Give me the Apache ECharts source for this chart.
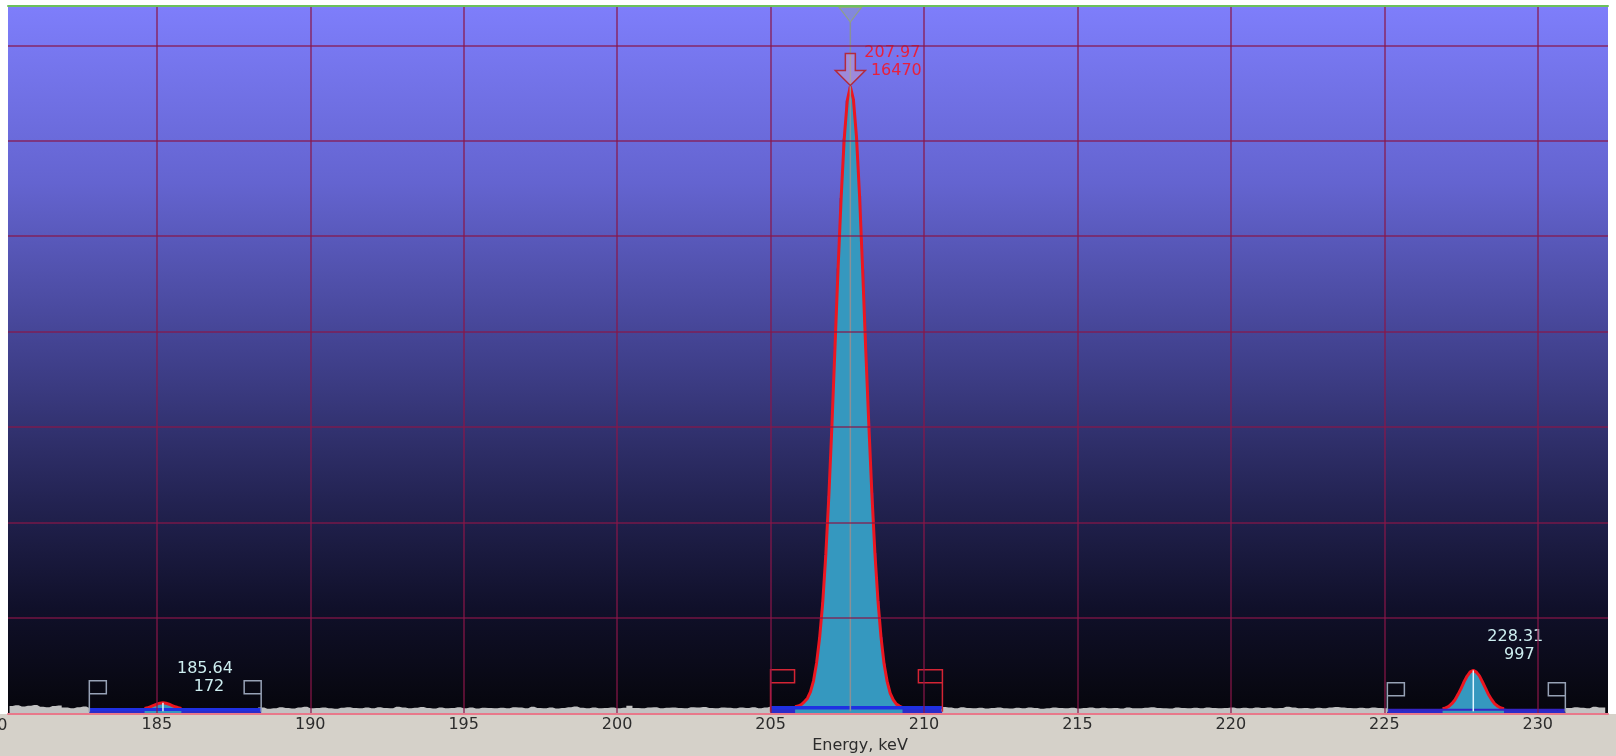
<!DOCTYPE html>
<html>
<head>
<meta charset="utf-8">
<script src="https://cdn.jsdelivr.net/npm/echarts@6/dist/echarts.min.js"></script>
<style>
html,body{margin:0;padding:0;background:#ffffff;}
#chart{width:1616px;height:756px;}
</style>
</head>
<body>
<div id="chart"></div>
<script>
// ---------------- data ----------------
const xMin = 180.15, xMax = 232.29;
const yMax = 18530, yStep = 2500;
const xTicks = [185, 190, 195, 200, 205, 210, 215, 220, 225, 230];
const xAxisTitle = 'Energy, keV';

// continuum / background spectrum, 0.2 keV bins starting at 180.2 keV
const bgStart = 180.2, bgStep = 0.2;
const bgCounts = [
  190,210,180,200,215,170,160,190,205,150,130,160,180,140,135,170,150,160,145,155,
  150,160,140,155,165,170,160,150,145,160,155,140,150,135,160,145,150,140,155,145,
  140,150,120,135,160,140,125,150,170,130,140,155,135,120,145,160,140,130,150,135,
  160,140,130,170,150,135,145,165,140,125,155,130,140,160,135,150,125,145,140,130,
  145,135,160,150,130,170,140,135,155,125,140,160,180,145,130,150,135,140,155,130,
  145,200,140,135,150,160,130,145,155,140,135,160,150,165,140,130,155,145,135,150,
  140,160,135,155,175,170,180,165,180,190,185,190,180,175,190,185,180,190,185,180,
  190,185,180,175,190,185,180,175,170,180,185,170,165,150,135,160,140,130,145,125,
  140,150,130,125,145,135,150,140,120,135,150,140,130,145,125,140,155,135,145,130,
  140,125,150,135,130,145,160,140,135,125,150,140,130,145,135,155,140,130,140,150,
  135,145,130,150,140,155,135,140,170,150,130,140,125,145,135,155,165,150,140,135,
  145,130,150,140,135,130,140,135,145,130,135,140,130,145,135,140,135,130,140,135,
  140,135,130,145,135,140,130,135,140,145,135,140,150,130,140,160,145,135,170,150,
  155
];

// ROI channel data, 0.1 keV channels
const chStep = 0.1;
const roi1Start = 182.8;
const roi1Counts = [
   95,110,100, 90,105,100, 95,110, 90,100,
  105, 95,100, 90,110,100,105,112,124,144,
  172,206,240,265,275,262,238,204,170,146,
  128,118,112,108,105,110,104,106,100, 95,
  105,100, 90,105, 95,100,110, 90,100, 95,
  105,100, 90,100,110, 95,100
];
const roi2Start = 205.0;
const roi2Counts = [
    140,  110,  150,  130,  120,  160,  135,  150,  170,  190,
    230,  300,  390,  560,  850, 1320, 1990, 2900, 4150, 5700,
   7550, 9600,11650,13500,15050,16050,16420,16080,15100,13560,
  11620, 9560, 7600, 5780, 4200, 2950, 1990, 1290,  830,  520,
    350,  240,  190,  150,  140,  120,  130,  110,  140,  120,
    150,  130,  110,  140,  120,  130,  120
];
const roi3Start = 225.1;
const roi3Counts = [
    90, 110,  85, 100,  95,  80, 105,  90, 100,  85,
    95, 110,  90, 100,  95, 100, 104, 112, 120, 142,
   180, 252, 350, 490, 648, 826, 975,1088,1125,1080,
   980, 820, 655, 485, 355, 248, 185, 138, 118, 106,
    98, 100,  90, 105,  85,  95, 100,  90, 110,  95,
    85, 100,  90, 105,  95,  80, 100,  90,  95
];
const roiBaseline = [100, 145, 92];
const peakEnergyLabels = ['185.64', '207.97', '228.31'];
const peakAreaLabels = ['172', '16470', '997'];
const selectedRoi = 1;

// ---------------- styles ----------------
const FONT = '"DejaVu Sans", Verdana, sans-serif';
const gridColor = 'rgba(138,22,72,0.82)';
const tealFill = '#3598bf';
const fitRed = '#ec1620';
const roiFillColor = '#2a2cc8';
const baselineColors = ['#1f30e2', '#1f30e2', '#3424c4'];
const baselineWidths = [3, 3.5, 2];
const flagColors = ['#97a2b6', '#d42434', '#97a2b6'];
const flagSizes = [ {h: 31, w: 17}, {h: 42, w: 24}, {h: 29, w: 17} ];

// ---------------- helpers ----------------
const r2 = v => Math.round(v * 100) / 100;
const rois = [
  {start: roi1Start, counts: roi1Counts},
  {start: roi2Start, counts: roi2Counts},
  {start: roi3Start, counts: roi3Counts}
];
rois.forEach((r, k) => {
  r.data = r.counts.map((v, i) => [r2(r.start + i * chStep), v]);
  r.end = r.data[r.data.length - 1][0];
  r.base = roiBaseline[k];
  // peak part: channels clearly above the baseline, plus one neighbour each side
  const above = r.counts.map(v => v - r.base > 35);
  r.peak = r.data.filter((d, i) => above[i] || above[i - 1] || above[i + 1]);
  let mi = 0;
  r.counts.forEach((v, i) => { if (v > r.counts[mi]) mi = i; });
  r.max = r.data[mi];
});
const inRoi = x => rois.some(r => x > r.start + 0.02 && x < r.end - 0.02);
// the continuum is shown in grey outside the regions of interest only
const bgData = bgCounts.map((v, i) => {
  const x = r2(bgStart + i * bgStep);
  return [x, inRoi(x) ? 0 : v];
});

function txt(s, x, y, color) {
  return {
    type: 'text',
    style: {
      text: s, x: x, y: y, fill: color, font: '16px ' + FONT,
      align: 'center', verticalAlign: 'middle',
      textAlign: 'center', textVerticalAlign: 'middle'
    }
  };
}

const series = [];
series.push({
  type: 'line', name: 'spectrum', data: bgData, step: 'middle',
  showSymbol: false, z: 2, silent: true,
  lineStyle: {width: 0, color: '#c2c2c2'},
  areaStyle: {color: '#c2c2c2', opacity: 1}
});
rois.forEach((r, k) => {
  series.push({
    type: 'line', name: 'roi' + (k + 1), data: r.data, step: 'middle',
    showSymbol: false, z: 2, silent: true,
    lineStyle: {width: 0, color: roiFillColor},
    areaStyle: {color: roiFillColor, opacity: 1}
  });
  series.push({
    type: 'line', name: 'peak' + (k + 1), data: r.peak,
    showSymbol: false, z: 3, silent: true,
    lineStyle: {width: 3, color: fitRed},
    areaStyle: {color: tealFill, opacity: 1}
  });
  series.push({
    type: 'line', name: 'baseline' + (k + 1),
    data: [[r.start, r.base], [r.end, r.base]],
    showSymbol: false, z: 4, silent: true,
    lineStyle: {width: baselineWidths[k], color: baselineColors[k]}
  });
});

// ROI flags
series.push({
  type: 'custom', name: 'roiFlags', z: 5, silent: true,
  data: rois.map(r => [r.start, r.end]),
  renderItem: function (params, api) {
    const k = params.dataIndex;
    const s = api.coord([api.value(0), 0]);
    const e = api.coord([api.value(1), 0]);
    const h = flagSizes[k].h, w = flagSizes[k].w, fh = 13;
    const y0 = s[1] - 1.5;
    const st = {stroke: flagColors[k], fill: null, lineWidth: 1.5};
    return {
      type: 'group',
      children: [
        {type: 'polyline', shape: {points: [[s[0], y0], [s[0], y0 - h], [s[0] + w, y0 - h], [s[0] + w, y0 - h + fh], [s[0], y0 - h + fh]]}, style: st},
        {type: 'polyline', shape: {points: [[e[0], y0], [e[0], y0 - h], [e[0] - w, y0 - h], [e[0] - w, y0 - h + fh], [e[0], y0 - h + fh]]}, style: st}
      ]
    };
  }
});

// peak markers and labels
series.push({
  type: 'custom', name: 'peakMarkers', z: 6, silent: true,
  data: rois.map(r => r.max),
  renderItem: function (params, api) {
    const i = params.dataIndex;
    const p = api.coord([api.value(0), api.value(1)]);
    const b = api.coord([api.value(0), 0]);
    const top = api.coord([api.value(0), yMax]);
    const cx = p[0];
    const sel = i === selectedRoi;
    const children = [];
    if (sel) {
      children.push({type: 'line', shape: {x1: cx, y1: b[1] - 2, x2: cx, y2: top[1] + 16},
        style: {stroke: '#8a9096', lineWidth: 1.5}});
      children.push({type: 'polygon', shape: {points: [[cx - 11, top[1] + 1.5], [cx + 11, top[1] + 1.5], [cx, top[1] + 16]]},
        style: {fill: 'rgba(150,170,140,0.25)', stroke: '#8fa088', lineWidth: 1.2}});
      const t = p[1] - 1;
      children.push({type: 'polygon', shape: {points: [[cx - 5, t - 32], [cx + 5, t - 32], [cx + 5, t - 15], [cx + 15, t - 15], [cx, t], [cx - 15, t - 15], [cx - 5, t - 15]]},
        style: {fill: 'rgba(235,180,190,0.35)', stroke: '#b42a3c', lineWidth: 1.5}});
    } else {
      children.push({type: 'line', shape: {x1: cx, y1: b[1] - 2, x2: cx, y2: p[1]},
        style: {stroke: '#e2f6ff', lineWidth: 1.5}});
    }
    const col = sel ? '#e8203c' : '#cdeef0';
    children.push(txt(peakEnergyLabels[i], cx + 42, p[1] - 34, col));
    children.push(txt(peakAreaLabels[i], cx + 46, p[1] - 16, col));
    return {type: 'group', children: children};
  }
});

const chart = echarts.init(document.getElementById('chart'), null, {renderer: 'canvas'});
chart.setOption({
  animation: false,
  backgroundColor: '#ffffff',
  grid: {
    left: 8, right: 8, top: 6, bottom: 42.7,
    containLabel: false, outerBoundsMode: 'none',
    show: true, borderWidth: 0,
    backgroundColor: {
      type: 'linear', x: 0, y: 0, x2: 0, y2: 1,
      colorStops: [
        {offset: 0, color: '#7e7efb'},
        {offset: 0.25, color: '#6464d0'},
        {offset: 0.5, color: '#40408c'},
        {offset: 0.7, color: '#232352'},
        {offset: 0.85, color: '#10102a'},
        {offset: 1, color: '#06060c'}
      ]
    }
  },
  xAxis: [
    {
      type: 'value', min: xMin, max: xMax, position: 'bottom', z: 10,
      axisLine: {show: true, lineStyle: {color: '#e8788a', width: 2}},
      axisTick: {show: false, customValues: xTicks},
      axisLabel: {
        customValues: xTicks, color: '#2c2c2c', fontSize: 16, fontFamily: FONT, margin: 4
      },
      splitLine: {show: true, lineStyle: {color: gridColor, width: 1.5}}
    },
    {
      type: 'value', min: xMin, max: xMax, position: 'top', z: 12,
      axisLine: {show: true, onZero: false, lineStyle: {color: '#6cc05c', width: 2}},
      axisTick: {show: false}, axisLabel: {show: false}, splitLine: {show: false}
    }
  ],
  yAxis: {
    type: 'value', min: 0, max: yMax, interval: yStep, z: 10,
    axisLine: {show: false}, axisTick: {show: false}, axisLabel: {show: false},
    splitLine: {show: true, lineStyle: {color: gridColor, width: 1.5}}
  },
  graphic: [
    {type: 'rect', z: -10, shape: {x: 0, y: 714, width: 1616, height: 42}, style: {fill: '#d5d1c9'}},
    {type: 'text', z: 20, x: 7.5, y: 726,
      style: {text: '180', font: '16px ' + FONT, fill: '#2c2c2c', align: 'right', verticalAlign: 'middle', textAlign: 'right', textVerticalAlign: 'middle'}},
    {type: 'text', z: 20, x: 860, y: 746,
      style: {text: xAxisTitle, font: '16px ' + FONT, fill: '#2c2c2c', align: 'center', verticalAlign: 'middle', textAlign: 'center', textVerticalAlign: 'middle'}}
  ],
  series: series
});
</script>
</body>
</html>
